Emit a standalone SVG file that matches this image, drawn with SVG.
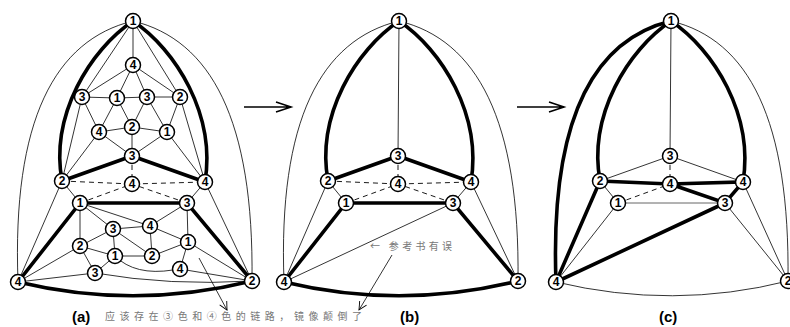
<svg xmlns="http://www.w3.org/2000/svg" width="790" height="327" viewBox="0 0 790 327">
<defs>
<style>
.n circle{fill:#fff;stroke:#000;stroke-width:1.5}
.n text{font-family:"Liberation Sans",Arial,sans-serif;font-weight:bold;font-size:12px;text-anchor:middle}
.t{stroke:#000;stroke-width:0.8;fill:none}
.g{stroke:#555;stroke-width:0.9;fill:none}
.k{stroke:#000;stroke-width:3.6;fill:none;stroke-linecap:round}
.d{stroke:#000;stroke-width:0.9;stroke-dasharray:5 4;fill:none}
.lab{font-family:"Liberation Sans",Arial,sans-serif;font-weight:bold;font-size:15px;fill:#000}
.cn{font-family:"Noto Sans CJK SC","Liberation Sans",sans-serif;font-size:10px;fill:#777}
.ar{stroke:#000;stroke-width:1.6;fill:none}
</style>
<marker id="ah" markerWidth="10" markerHeight="10" refX="9" refY="5" orient="auto" markerUnits="userSpaceOnUse">
<path d="M1,1 L9,5 L1,9" fill="none" stroke="#000" stroke-width="0.9"/>
</marker>
</defs>

<!-- Panel arrows -->
<g id="panel-arrows">
<path class="ar" d="M244,107 H290 M276,102 L291,107 L276,112"/>
<path class="ar" d="M517,107 H563 M549,102 L564,107 L549,112"/>
</g>

<!-- Panel (a) -->
<g id="panel-a">
<g id="connectors-a">
<path class="t" d="M133,21 C55,40 12,120 18,282"/>
<path class="t" d="M133,21 C211,40 254,120 252,281"/>
<path class="k" d="M133,21 C90,50 50,115 62,181"/>
<path class="k" d="M133,21 C176,50 216,115 205,182"/>
<path class="k" d="M18,282 Q135,310 252,281"/>
<path class="t" d="M133,21 L133,65 M133,21 L82,97 M133,21 L180,97"/>
<path class="t" d="M133,65 L82,97 M133,65 L117,98 M133,65 L147,97 M133,65 L180,97"/>
<path class="t" d="M82,97 L117,98 M82,97 L99,132 M82,97 L62,181"/>
<path class="t" d="M117,98 L147,97 M117,98 L99,132 M117,98 L132,127"/>
<path class="t" d="M147,97 L180,97 M147,97 L132,127 M147,97 L167,132"/>
<path class="t" d="M180,97 L167,132 M180,97 L205,182"/>
<path class="t" d="M99,132 L132,127 M99,132 L132,156 M99,132 L62,181"/>
<path class="t" d="M132,127 L167,132 M132,127 L132,156"/>
<path class="t" d="M167,132 L132,156 M167,132 L205,182"/>
<path class="k" d="M62,181 L132,156 L205,182"/>
<path class="d" d="M132,156 L132,184 M62,181 L132,184 L205,182 M80,203 L132,184 L187,203"/>
<path class="t" d="M62,181 L80,203 M62,181 L18,282 M205,182 L187,203 M205,182 L252,281"/>
<path class="k" d="M18,282 L80,203 L187,203 L252,281"/>
<path class="t" d="M80,203 L113,229 M80,203 L150,226 M80,203 L80,246"/>
<path class="t" d="M187,203 L150,226 M187,203 L188,242"/>
<path class="t" d="M113,229 L150,226 M113,229 L80,246 M113,229 L115,256 M113,229 L152,256"/>
<path class="t" d="M150,226 L188,242 M150,226 L152,256"/>
<path class="t" d="M80,246 L115,256 M80,246 L95,273 M80,246 L18,282"/>
<path class="t" d="M115,256 L152,256 M115,256 L95,273 M115,256 Q135,276 173,270"/>
<path class="t" d="M152,256 L188,242"/>
<path class="t" d="M188,242 L180,269 M188,242 L252,281"/>
<path class="t" d="M95,273 L18,282 M95,273 Q170,286 252,281 M180,269 L252,281"/>
<path class="t" d="M199,258 L227,310" marker-end="url(#ah)"/>
</g>
<g id="a-n1" class="n"><circle cx="133" cy="21" r="7.5"/><text x="133" y="25.3">1</text></g>
<g id="a-n4a" class="n"><circle cx="133" cy="65" r="7.5"/><text x="133" y="69.3">4</text></g>
<g id="a-n3l" class="n"><circle cx="82" cy="97" r="7.5"/><text x="82" y="101.3">3</text></g>
<g id="a-n1i" class="n"><circle cx="117" cy="98" r="7.5"/><text x="117" y="102.3">1</text></g>
<g id="a-n3i" class="n"><circle cx="147" cy="97" r="7.5"/><text x="147" y="101.3">3</text></g>
<g id="a-n2r" class="n"><circle cx="180" cy="97" r="7.5"/><text x="180" y="101.3">2</text></g>
<g id="a-n4l" class="n"><circle cx="99" cy="132" r="7.5"/><text x="99" y="136.3">4</text></g>
<g id="a-n2c" class="n"><circle cx="132" cy="127" r="7.5"/><text x="132" y="131.3">2</text></g>
<g id="a-n1r" class="n"><circle cx="167" cy="132" r="7.5"/><text x="167" y="136.3">1</text></g>
<g id="a-n3b" class="n"><circle cx="132" cy="156" r="7.5"/><text x="132" y="160.3">3</text></g>
<g id="a-n2L" class="n"><circle cx="62" cy="181" r="7.5"/><text x="62" y="185.3">2</text></g>
<g id="a-n4m" class="n"><circle cx="132" cy="184" r="7.5"/><text x="132" y="188.3">4</text></g>
<g id="a-n4R" class="n"><circle cx="205" cy="182" r="7.5"/><text x="205" y="186.3">4</text></g>
<g id="a-n1p" class="n"><circle cx="80" cy="203" r="7.5"/><text x="80" y="207.3">1</text></g>
<g id="a-n3q" class="n"><circle cx="187" cy="203" r="7.5"/><text x="187" y="207.3">3</text></g>
<g id="a-n3c" class="n"><circle cx="113" cy="229" r="7.5"/><text x="113" y="233.3">3</text></g>
<g id="a-n4c" class="n"><circle cx="150" cy="226" r="7.5"/><text x="150" y="230.3">4</text></g>
<g id="a-n2d" class="n"><circle cx="80" cy="246" r="7.5"/><text x="80" y="250.3">2</text></g>
<g id="a-n1d" class="n"><circle cx="115" cy="256" r="7.5"/><text x="115" y="260.3">1</text></g>
<g id="a-n2e" class="n"><circle cx="152" cy="256" r="7.5"/><text x="152" y="260.3">2</text></g>
<g id="a-n1e" class="n"><circle cx="188" cy="242" r="7.5"/><text x="188" y="246.3">1</text></g>
<g id="a-n3e" class="n"><circle cx="95" cy="273" r="7.5"/><text x="95" y="277.3">3</text></g>
<g id="a-n4e" class="n"><circle cx="180" cy="269" r="7.5"/><text x="180" y="273.3">4</text></g>
<g id="a-n4C" class="n"><circle cx="18" cy="282" r="7.5"/><text x="18" y="286.3">4</text></g>
<g id="a-n2C" class="n"><circle cx="252" cy="281" r="7.5"/><text x="252" y="285.3">2</text></g>
<text class="lab" x="72" y="322">(a)</text>
<text class="cn" x="105" y="320" textLength="257" lengthAdjust="spacing">应该存在③色和④色的链路，镜像颠倒了</text>
</g>

<!-- Panel (b) -->
<g id="panel-b" transform="translate(266,0)">
<g id="connectors-b">
<path class="t" d="M133,21 C55,40 12,120 18,282"/>
<path class="t" d="M133,21 C211,40 254,120 252,281"/>
<path class="k" d="M133,21 C90,50 50,115 62,181"/>
<path class="k" d="M133,21 C176,50 216,115 205,182"/>
<path class="k" d="M18,282 Q135,310 252,281"/>
<path class="t" d="M133,21 L132,156"/>
<path class="k" d="M62,181 L132,156 L205,182"/>
<path class="d" d="M132,156 L132,184 M62,181 L132,184 L205,182 M80,203 L132,184 L187,203"/>
<path class="t" d="M62,181 L80,203 M62,181 L18,282 M205,182 L187,203 M205,182 L252,281 M187,203 L18,282"/>
<path class="k" d="M18,282 L80,203 L187,203 L252,281"/>
<path class="t" d="M126,255 L93,310" marker-end="url(#ah)"/>
</g>
<g id="b-n1" class="n"><circle cx="133" cy="21" r="7.5"/><text x="133" y="25.3">1</text></g>
<g id="b-n3b" class="n"><circle cx="132" cy="156" r="7.5"/><text x="132" y="160.3">3</text></g>
<g id="b-n2L" class="n"><circle cx="62" cy="181" r="7.5"/><text x="62" y="185.3">2</text></g>
<g id="b-n4m" class="n"><circle cx="132" cy="184" r="7.5"/><text x="132" y="188.3">4</text></g>
<g id="b-n4R" class="n"><circle cx="205" cy="182" r="7.5"/><text x="205" y="186.3">4</text></g>
<g id="b-n1p" class="n"><circle cx="80" cy="203" r="7.5"/><text x="80" y="207.3">1</text></g>
<g id="b-n3q" class="n"><circle cx="187" cy="203" r="7.5"/><text x="187" y="207.3">3</text></g>
<g id="b-n4C" class="n"><circle cx="18" cy="282" r="7.5"/><text x="18" y="286.3">4</text></g>
<g id="b-n2C" class="n"><circle cx="252" cy="281" r="7.5"/><text x="252" y="285.3">2</text></g>
<text class="cn" x="104" y="250" textLength="82" lengthAdjust="spacing">← 参考书有误</text>
<text class="lab" x="134" y="322">(b)</text>
</g>

<!-- Panel (c) -->
<g id="panel-c" transform="translate(538,0)">
<g id="connectors-c">
<path class="k" d="M133,21 C55,40 12,120 18,282"/>
<path class="t" d="M133,21 C211,40 252,120 250,281"/>
<path class="k" d="M133,21 C90,50 50,115 62,181"/>
<path class="k" d="M133,21 C176,50 216,115 205,182"/>
<path class="t" d="M18,282 Q135,310 250,281"/>
<path class="t" d="M133,21 L132,156 M62,181 L132,156 L205,182"/>
<path class="d" d="M132,156 L132,184 M80,203 L132,184"/>
<path class="g" d="M80,203 L187,203"/>
<path class="k" d="M62,181 L132,184 L205,182 L187,203 L132,184"/>
<path class="t" d="M62,181 L80,203 M80,203 L18,282 M187,203 L250,281 M205,182 L250,281"/>
<path class="k" d="M62,181 L18,282 L187,203"/>
</g>
<g id="c-n1" class="n"><circle cx="133" cy="21" r="7.5"/><text x="133" y="25.3">1</text></g>
<g id="c-n3b" class="n"><circle cx="132" cy="156" r="7.5"/><text x="132" y="160.3">3</text></g>
<g id="c-n2L" class="n"><circle cx="62" cy="181" r="7.5"/><text x="62" y="185.3">2</text></g>
<g id="c-n4m" class="n"><circle cx="132" cy="184" r="7.5"/><text x="132" y="188.3">4</text></g>
<g id="c-n4R" class="n"><circle cx="205" cy="182" r="7.5"/><text x="205" y="186.3">4</text></g>
<g id="c-n1p" class="n"><circle cx="80" cy="203" r="7.5"/><text x="80" y="207.3">1</text></g>
<g id="c-n3q" class="n"><circle cx="187" cy="203" r="7.5"/><text x="187" y="207.3">3</text></g>
<g id="c-n4C" class="n"><circle cx="18" cy="282" r="7.5"/><text x="18" y="286.3">4</text></g>
<g id="c-n2C" class="n"><circle cx="250" cy="281" r="7.5"/><text x="250" y="285.3">2</text></g>
<text class="lab" x="121" y="322">(c)</text>
</g>
</svg>
